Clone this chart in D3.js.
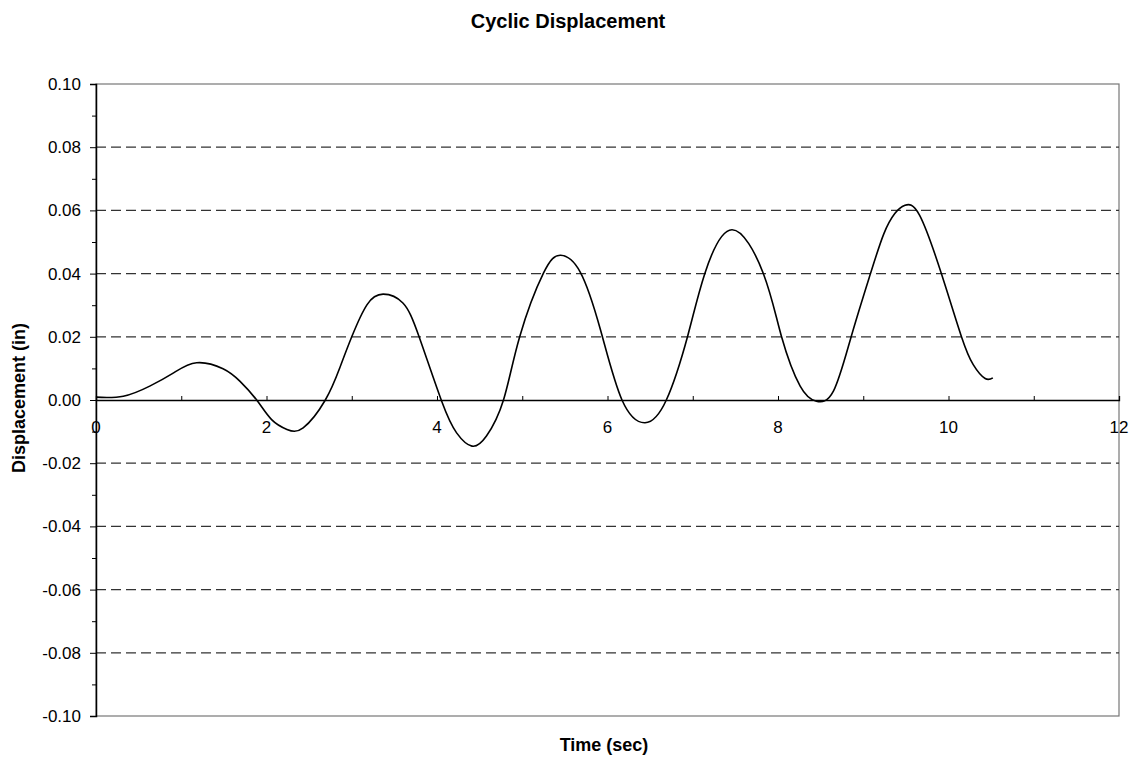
<!DOCTYPE html>
<html>
<head>
<meta charset="utf-8">
<script src="https://cdn.jsdelivr.net/npm/d3@7"></script>
<style>
  body { margin: 0; background: #fff; }
  text { font-family: Arial, "Liberation Sans", sans-serif; fill: #000; }
</style>
</head>
<body>
<div id="chart"></div>
<script>
// data
const time = [0, 0.32, 0.63, 0.91, 1.18, 1.49, 1.69, 1.885, 2.06, 2.24, 2.43, 2.69, 2.86, 3.0, 3.18, 3.37, 3.60, 3.79,
  4.055, 4.23, 4.41, 4.58, 4.78, 4.97, 5.25, 5.45, 5.68, 5.92, 6.17, 6.44, 6.69, 6.94, 7.14, 7.46, 7.83, 8.04,
  8.26, 8.45, 8.65, 8.86, 9.08, 9.24, 9.37, 9.49, 9.66, 9.92, 10.15, 10.29, 10.43, 10.52];
const displacement = [0.0009, 0.0012, 0.0044, 0.0086, 0.0118, 0.0099, 0.0059, 0, -0.0062, -0.0093, -0.0088, 0, 0.0102, 0.0200, 0.0302, 0.0335, 0.0307, 0.0200,
  -0.0004, -0.0104, -0.0146, -0.0114, 0, 0.0200, 0.0402, 0.0458, 0.0405, 0.0220, 0, -0.0072, 0, 0.0202, 0.0399, 0.0539, 0.0399, 0.0202,
  0.0044, -0.0004, 0.0028, 0.0202, 0.0396, 0.0525, 0.0590, 0.0616, 0.0585, 0.0397, 0.0202, 0.0112, 0.0068, 0.0070];
const xTicks = [0, 2, 4, 6, 8, 10, 12];
const yTicks = [0.10, 0.08, 0.06, 0.04, 0.02, 0.00, -0.02, -0.04, -0.06, -0.08, -0.10];

const width = 1136, height = 762;
const plotLeft = 96, plotRight = 1119, plotTop = 84, plotBottom = 716;

const svg = d3.select("#chart")
  .append("svg")
  .attr("width", width)
  .attr("height", height);

const xScale = d3.scaleLinear().domain([0, 12]).range([plotLeft, plotRight]);
const yScale = d3.scaleLinear().domain([-0.1, 0.1]).range([plotBottom, plotTop]);

// frame
svg.append("rect")
  .attr("x", plotLeft).attr("y", plotTop)
  .attr("width", plotRight - plotLeft).attr("height", plotBottom - plotTop)
  .attr("fill", "none")
  .attr("stroke", "#777")
  .attr("stroke-width", 1.2);

// dashed gridlines
svg.selectAll(".grid")
  .data(yTicks.filter(d => Math.abs(d) > 1e-9 && Math.abs(d) < 0.099))
  .join("line")
  .attr("class", "grid")
  .attr("x1", plotLeft).attr("x2", plotRight)
  .attr("y1", d => yScale(d)).attr("y2", d => yScale(d))
  .attr("stroke", "#333")
  .attr("stroke-width", 1.2)
  .attr("stroke-dasharray", "10,5");

// y axis, major + minor ticks
const fmt = d => d3.format(".2f")(d).replace("−", "-");
const yAxis = d3.axisLeft(yScale)
  .tickValues(yTicks)
  .tickSize(6)
  .tickFormat(fmt);
const gy = svg.append("g")
  .attr("transform", `translate(${plotLeft},0)`)
  .call(yAxis);
gy.select(".domain").attr("stroke", "#000").attr("stroke-width", 1.5);
gy.selectAll(".tick line").attr("stroke", "#000");
gy.selectAll(".tick text")
  .attr("x", -15)
  .style("font-size", "17px")
  .style("font-family", "Arial, 'Liberation Sans', sans-serif");

svg.append("g")
  .attr("transform", `translate(${plotLeft},0)`)
  .call(d3.axisLeft(yScale).tickValues(d3.range(-9, 10, 2).map(d => d / 100)).tickSize(4).tickFormat(""))
  .call(g => g.select(".domain").remove())
  .selectAll(".tick line").attr("stroke", "#000");

// x axis at zero
const gx = svg.append("g")
  .attr("transform", `translate(0,${yScale(0)})`)
  .call(d3.axisTop(xScale).ticks(12).tickSize(4).tickFormat(""));
gx.select(".domain").attr("stroke", "#000").attr("stroke-width", 1.3);
gx.selectAll(".tick line").attr("stroke", "#000");

svg.selectAll(".xlab")
  .data(xTicks)
  .join("text")
  .attr("class", "xlab")
  .attr("x", d => xScale(d))
  .attr("y", yScale(0) + 33)
  .attr("text-anchor", "middle")
  .style("font-size", "17px")
  .text(d => d);

// data line
const points = time.map((t, i) => [t, displacement[i]]);
const line = d3.line()
  .x(d => xScale(d[0]))
  .y(d => yScale(d[1]))
  .curve(d3.curveNatural);

svg.append("path")
  .datum(points)
  .attr("d", line)
  .attr("fill", "none")
  .attr("stroke", "#000")
  .attr("stroke-width", 1.6);

// titles
svg.append("text")
  .attr("x", 568).attr("y", 28)
  .attr("text-anchor", "middle")
  .style("font-size", "20px")
  .style("font-weight", "bold")
  .text("Cyclic Displacement");

svg.append("text")
  .attr("x", 604).attr("y", 751)
  .attr("text-anchor", "middle")
  .style("font-size", "18px")
  .style("font-weight", "bold")
  .text("Time (sec)");

svg.append("text")
  .attr("transform", "translate(25,398) rotate(-90)")
  .attr("text-anchor", "middle")
  .style("font-size", "18px")
  .style("font-weight", "bold")
  .text("Displacement (in)");
</script>
</body>
</html>
